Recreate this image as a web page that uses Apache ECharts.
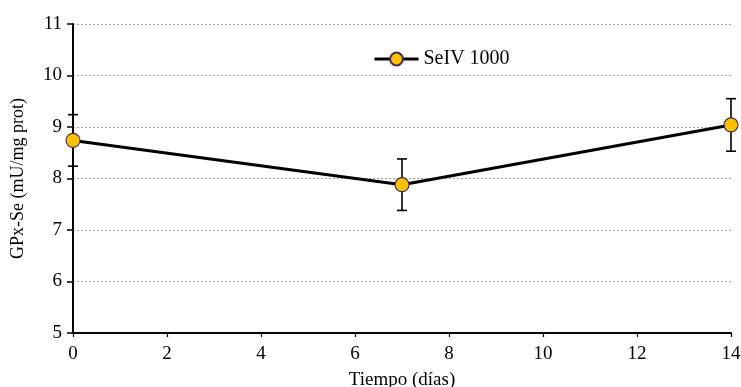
<!DOCTYPE html>
<html>
<head>
<meta charset="utf-8">
<script src="https://cdn.jsdelivr.net/npm/echarts@6/dist/echarts.min.js"></script>
<style>html,body{margin:0;padding:0;background:#fff}#c{width:741px;height:387px}</style>
</head>
<body>
<div id="c"></div>
<script>
var days = [0, 7, 14];
var values = [8.74, 7.88, 9.04];
var errors = [0.50, 0.50, 0.51];
var seriesName = 'SeIV 1000';
var xTicks = [0, 2, 4, 6, 8, 10, 12, 14];
var yTicks = [5, 6, 7, 8, 9, 10, 11];

var font = 'Liberation Serif';
var chart = echarts.init(document.getElementById('c'));
var lineData = days.map(function (d, i) { return [d, values[i]]; });
var errData = days.map(function (d, i) { return [d, values[i] - errors[i], values[i] + errors[i]]; });

chart.setOption({
  animation: false,
  textStyle: { fontFamily: font },
  grid: { left: 73, right: 10, top: 24, bottom: 54, containLabel: false, outerBoundsMode: 'none' },
  legend: {
    data: [seriesName], left: 368, top: 44,
    itemWidth: 44, itemHeight: 16, itemGap: 10,
    lineStyle: { width: 3, color: '#000' },
    textStyle: { fontFamily: font, fontSize: 20, color: '#000' }
  },
  xAxis: {
    type: 'value', min: xTicks[0], max: xTicks[xTicks.length - 1], interval: 2,
    name: 'Tiempo (días)', nameLocation: 'middle', nameGap: 38,
    nameTextStyle: { fontFamily: font, fontSize: 19, color: '#000' },
    axisLine: { lineStyle: { color: '#000', width: 2 } },
    axisTick: { show: true, length: 4, lineStyle: { color: '#000', width: 1.2 } },
    axisLabel: { fontFamily: font, fontSize: 19, color: '#000', margin: 12 },
    splitLine: { show: false }
  },
  yAxis: {
    type: 'value', min: yTicks[0], max: yTicks[yTicks.length - 1], interval: 1,
    name: 'GPx-Se (mU/mg prot)', nameLocation: 'middle', nameGap: 46,
    nameTextStyle: { fontFamily: font, fontSize: 18, color: '#000' },
    axisLine: { show: true, lineStyle: { color: '#000', width: 2 } },
    axisTick: { show: true, length: 6, lineStyle: { color: '#000', width: 1.5 } },
    axisLabel: { fontFamily: font, fontSize: 19, color: '#000', margin: 11 },
    splitLine: { show: true, lineStyle: { color: '#a0a0a0', type: [2, 2], width: 1 } }
  },
  series: [
    {
      type: 'custom', name: 'err', z: 1, clip: false,
      renderItem: function (params, api) {
        var x = api.value(0);
        var lo = api.coord([x, api.value(1)]);
        var hi = api.coord([x, api.value(2)]);
        var w = 5;
        var st = { stroke: '#000', lineWidth: 1.6 };
        return {
          type: 'group',
          children: [
            { type: 'line', shape: { x1: lo[0], y1: lo[1], x2: hi[0], y2: hi[1] }, style: st },
            { type: 'line', shape: { x1: lo[0] - w, y1: lo[1], x2: lo[0] + w, y2: lo[1] }, style: st },
            { type: 'line', shape: { x1: hi[0] - w, y1: hi[1], x2: hi[0] + w, y2: hi[1] }, style: st }
          ]
        };
      },
      data: errData
    },
    {
      type: 'line', name: seriesName, z: 5, data: lineData,
      symbol: 'circle', symbolSize: 14, clip: false,
      lineStyle: { color: '#000', width: 3 },
      itemStyle: { color: '#FFC000', borderColor: '#3F3151', borderWidth: 1.2 }
    }
  ]
});
</script>
</body>
</html>
